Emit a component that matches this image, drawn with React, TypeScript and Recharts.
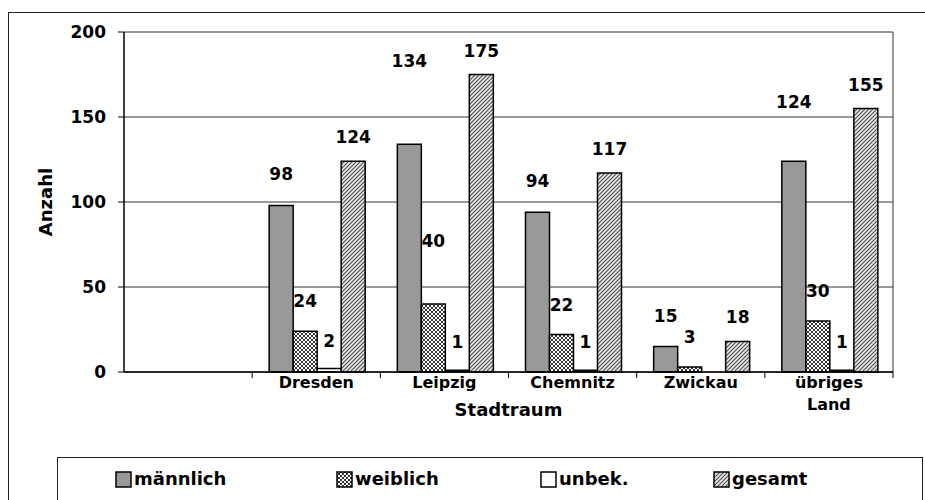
import React from "react";
import { BarChart, Bar, XAxis, YAxis, CartesianGrid, LabelList } from "recharts";

// Stadtraum categories (first slot is empty in the original)
const categories = ["", "Dresden", "Leipzig", "Chemnitz", "Zwickau", "übriges Land"];
const maennlich = [null, 98, 134, 94, 15, 124];
const weiblich = [null, 24, 40, 22, 3, 30];
const unbekannt = [null, 2, 1, 1, 0, 1];
const gesamt = [null, 124, 175, 117, 18, 155];
const yTicks = [0, 50, 100, 150, 200];

const data = categories.map((c, i) => ({
  stadt: c,
  m: maennlich[i],
  w: weiblich[i],
  u: unbekannt[i],
  g: gesamt[i],
}));

const FONT = "'DejaVu Sans', 'Liberation Sans', Arial, sans-serif";

const series = [
  { key: "m", name: "männlich", fill: "#999999", lift: 31, legendX: 57 },
  { key: "w", name: "weiblich", fill: "url(#patW)", lift: 30, legendX: 278 },
  { key: "u", name: "unbek.", fill: "#ffffff", lift: 28, legendX: 482 },
  { key: "g", name: "gesamt", fill: "url(#patG)", lift: 24, legendX: 655 },
];

// Excel pushed a few labels higher to avoid collisions (keyed by series:value)
const liftOverride: Record<string, number> = {
  "m:134": 83,
  "w:40": 63,
  "m:124": 59,
};

function Patterns({ suffix = "" }: { suffix?: string }) {
  return (
    <defs>
      <pattern id={"patW" + suffix} width="4" height="4" patternUnits="userSpaceOnUse">
        <rect width="4" height="4" fill="#ffffff" />
        <rect width="2" height="2" fill="#333" />
        <rect x="2" y="2" width="2" height="2" fill="#333" />
      </pattern>
      <pattern id={"patG" + suffix} width="4" height="4" patternUnits="userSpaceOnUse">
        <rect width="4" height="4" fill="#e8e8e8" />
        <path d="M-1,1 l2,-2 M0,4 l4,-4 M3,5 l2,-2" stroke="#555" strokeWidth="1.2" />
      </pattern>
    </defs>
  );
}

function makeLabel(key: string, lift: number) {
  return (props: any) => {
    const { x, y, width, value } = props;
    if (!value) return null;
    const l = liftOverride[key + ":" + value] ?? lift;
    return (
      <text
        x={x + width / 2}
        y={y - l}
        textAnchor="middle"
        dominantBaseline="central"
        fontFamily={FONT}
        fontWeight="bold"
        fontSize={17}
        fill="#000"
      >
        {value}
      </text>
    );
  };
}

function CatTick(props: any) {
  const { x, y, payload } = props;
  const half = payload.offset || 64;
  const axisY = y - 10;
  const lines = String(payload.value).split(" ");
  return (
    <g>
      <line x1={x + half} x2={x + half} y1={axisY} y2={axisY + 6} stroke="#000" />
      <text
        x={x}
        y={axisY + 10}
        textAnchor="middle"
        fontFamily={FONT}
        fontWeight="bold"
        fontSize={16}
        fill="#000"
      >
        {lines.map((l, i) => (
          <tspan key={i} x={x} dy={i === 0 ? 6 : 22}>
            {l}
          </tspan>
        ))}
      </text>
    </g>
  );
}

function YTitle(props: any) {
  const { viewBox } = props;
  const cx = 36;
  const cy = viewBox.y + viewBox.height / 2;
  return (
    <text
      x={cx}
      y={cy}
      transform={`rotate(-90 ${cx} ${cy})`}
      textAnchor="middle"
      dominantBaseline="central"
      fontFamily={FONT}
      fontWeight="bold"
      fontSize={18}
      fill="#000"
    >
      Anzahl
    </text>
  );
}

function LegendBox() {
  return (
    <div
      style={{
        position: "absolute",
        left: 48,
        top: 444,
        width: 866,
        height: 70,
        border: "1.5px solid #222",
        boxSizing: "border-box",
        background: "#fff",
      }}
    >
      {series.map((s) => (
        <div
          key={s.key}
          style={{ position: "absolute", left: s.legendX, top: 11, display: "flex", alignItems: "center" }}
        >
          <svg width={17} height={17} style={{ marginRight: 2 }}>
            <Patterns suffix={"L" + s.key} />
            <rect
              x={1}
              y={1}
              width={15}
              height={15}
              fill={s.fill.startsWith("url") ? `url(#${s.fill.slice(5, -1)}L${s.key})` : s.fill}
              stroke="#000"
              strokeWidth={1.5}
            />
          </svg>
          <span style={{ fontFamily: FONT, fontWeight: "bold", fontSize: 18, color: "#000", lineHeight: "20px" }}>
            {s.name}
          </span>
        </div>
      ))}
    </div>
  );
}

export default function App() {
  return (
    <div style={{ width: 917, height: 492, overflow: "hidden" }}>
      <style>{"body{margin:8px 0 0 8px;overflow:hidden}"}</style>
      <div
        style={{
          position: "relative",
          marginTop: 4,
          width: 940,
          height: 520,
          border: "1.5px solid #222",
          boxSizing: "border-box",
          background: "#fff",
        }}
      >
        <div style={{ position: "absolute", left: 0, top: 0 }}>
          <BarChart
            width={914}
            height={444}
            data={data}
            margin={{ top: 19, right: 30, bottom: 0, left: 0 }}
            barCategoryGap={17}
            barGap={0}
          >
            <Patterns />
            <CartesianGrid
              stroke="#333"
              horizontal={true}
              vertical={true}
              verticalCoordinatesGenerator={({ offset }: any) => [offset.left + offset.width]}
            />
            <XAxis
              dataKey="stadt"
              height={85}
              tickLine={false}
              tickSize={6}
              tickMargin={4}
              axisLine={{ stroke: "#000", strokeWidth: 1.5 }}
              tick={<CatTick />}
              interval={0}
              label={{
                value: "Stadtraum",
                position: "insideBottom",
                offset: 41,
                fontFamily: FONT,
                fontWeight: "bold",
                fontSize: 18,
                fill: "#000",
              }}
            />
            <YAxis
              width={115}
              domain={[0, 200]}
              ticks={yTicks}
              tickSize={6}
              tickMargin={12}
              axisLine={{ stroke: "#000", strokeWidth: 1.5 }}
              tickLine={{ stroke: "#000" }}
              tick={{ fontFamily: FONT, fontWeight: "bold", fontSize: 17, fill: "#000" }}
              label={<YTitle />}
            />
            {series.map((s) => (
              <Bar
                key={s.key}
                dataKey={s.key}
                name={s.name}
                fill={s.fill}
                stroke="#000"
                strokeWidth={1.5}
                isAnimationActive={false}
              >
                <LabelList dataKey={s.key} content={makeLabel(s.key, s.lift)} />
              </Bar>
            ))}
          </BarChart>
        </div>
        <LegendBox />
      </div>
    </div>
  );
}
